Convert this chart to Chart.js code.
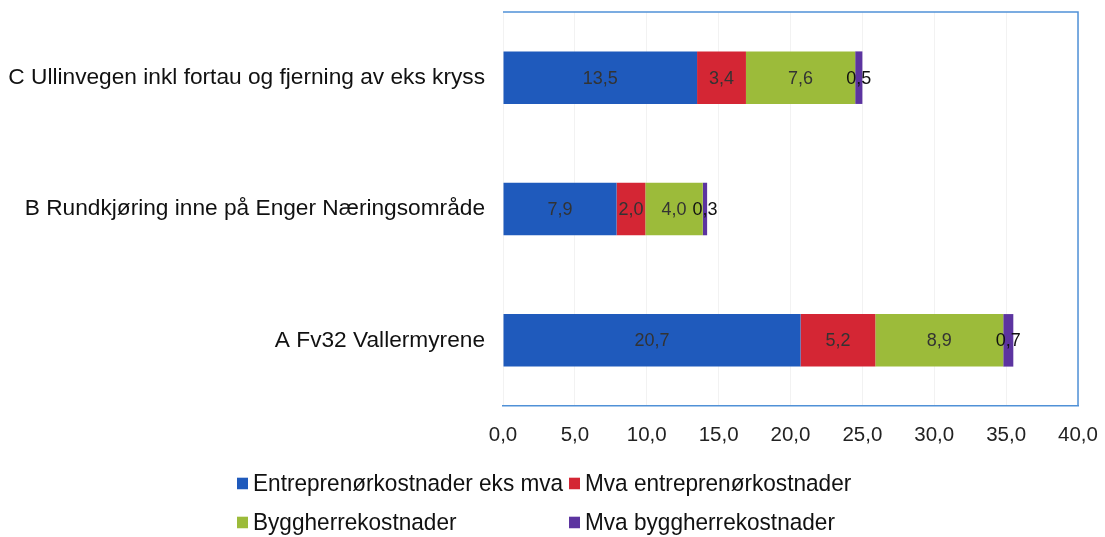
<!DOCTYPE html>
<html>
<head>
<meta charset="utf-8">
<script src="https://cdn.jsdelivr.net/npm/chart.js@4"></script>
<style>
  body { margin: 0; background: #fff; font-family: "Liberation Sans", Arial, sans-serif; }
  #wrap { position: relative; width: 1105px; height: 537px; }
  #chart { display: block; }
  #legend { position: absolute; left: 0; top: 0; width: 1105px; height: 537px; pointer-events: none; }
  .item { position: absolute; font-size: 22.6px; color: #111; white-space: nowrap; line-height: 24px; transform: translateY(-50%) scaleY(1.05); }
  .box { display: inline-block; width: 11px; height: 11px; margin-right: 5px; vertical-align: 2px; }
</style>
</head>
<body>
<div id="wrap">
  <canvas id="chart" width="1105" height="537"></canvas>
  <div id="legend"></div>
</div>
<script>
const categories = ['C Ullinvegen inkl fortau og fjerning av eks kryss', 'B Rundkjøring inne på Enger Næringsområde', 'A Fv32 Vallermyrene'];
const seriesNames = ['Entreprenørkostnader eks mva', 'Mva entreprenørkostnader', 'Byggherrekostnader', 'Mva byggherrekostnader'];
const entreprenor = [13.5, 7.9, 20.7];
const mvaEntreprenor = [3.4, 2.0, 5.2];
const byggherre = [7.6, 4.0, 8.9];
const mvaByggherre = [0.5, 0.3, 0.7];
const xTicks = [0, 5, 10, 15, 20, 25, 30, 35, 40];

const colors = ['rgb(31, 90, 188)', 'rgb(212, 38, 52)', 'rgb(156, 187, 58)', 'rgb(92, 52, 160)'];
const values = [entreprenor, mvaEntreprenor, byggherre, mvaByggherre];

const fmt = v => v.toFixed(1).replace('.', ',');

// labels in the middle of every segment
const segLabels = {
  id: 'segLabels',
  afterDatasetsDraw(chart) {
    const ctx = chart.ctx;
    ctx.save();
    ctx.font = '18px "Liberation Sans", Arial, sans-serif';
    ctx.textAlign = 'center';
    ctx.textBaseline = 'middle';
    chart.data.datasets.forEach((ds, i) => {
      chart.getDatasetMeta(i).data.forEach((bar, j) => {
        const cx = (bar.x + bar.base) / 2;
        ctx.fillStyle = i === 3 ? '#111' : '#333';
        ctx.fillText(fmt(ds.data[j]), cx, bar.y + 1);
      });
    });
    ctx.restore();
  }
};

// top and right frame lines
const frame = {
  id: 'frame',
  afterDraw(chart) {
    const a = chart.chartArea, ctx = chart.ctx;
    ctx.save();
    ctx.strokeStyle = 'rgb(80, 145, 215)';
    ctx.lineWidth = 1.5;
    ctx.beginPath();
    ctx.moveTo(a.left, a.top);
    ctx.lineTo(a.right, a.top);
    ctx.lineTo(a.right, a.bottom);
    ctx.stroke();
    ctx.restore();
  }
};

new Chart(document.querySelector('#chart').getContext('2d'), {
  type: 'bar',
  data: {
    labels: categories,
    datasets: seriesNames.map((name, i) => ({
      label: name,
      data: values[i],
      backgroundColor: colors[i],
      categoryPercentage: 1,
      barPercentage: 0.4
    }))
  },
  options: {
    indexAxis: 'y',
    responsive: false,
    animation: false,
    layout: { padding: { top: 12, right: 27, left: 0, bottom: 0 } },
    plugins: { legend: { display: false }, tooltip: { enabled: false } },
    scales: {
      x: {
        stacked: true,
        min: 0,
        max: 40,
        afterBuildTicks: axis => { axis.ticks = xTicks.map(v => ({ value: v })); },
        afterFit: axis => {
          axis.height = 131;
          axis.paddingLeft = 0;
          axis.paddingRight = 0;
        },
        ticks: {
          padding: 17,
          color: '#222',
          font: { size: 20.5, family: '"Liberation Sans", Arial, sans-serif' },
          callback: v => fmt(v)
        },
        grid: { color: 'rgba(0,0,0,0.05)', drawTicks: false },
        border: { display: true, color: 'rgb(80, 145, 215)', width: 1.5 }
      },
      y: {
        stacked: true,
        afterFit: axis => {
          axis.width = 503;
          axis.paddingTop = 0;
          axis.paddingBottom = 0;
        },
        ticks: {
          padding: 18,
          color: '#111',
          font: { size: 22.7, family: '"Liberation Sans", Arial, sans-serif' }
        },
        grid: { display: false, drawTicks: false },
        border: { display: false }
      }
    }
  },
  plugins: [segLabels, frame]
});

// legend laid out in two columns like the original (x of marker, y of row centre)
const legendPos = [[237, 484], [569, 484], [237, 523], [569, 523]];
const legend = document.querySelector('#legend');
seriesNames.forEach((name, i) => {
  const el = document.createElement('div');
  el.className = 'item';
  el.style.left = legendPos[i][0] + 'px';
  el.style.top = legendPos[i][1] + 'px';
  el.innerHTML = '<span class="box" style="background:' + colors[i] + '"></span>' + name;
  legend.appendChild(el);
});
</script>
</body>
</html>
